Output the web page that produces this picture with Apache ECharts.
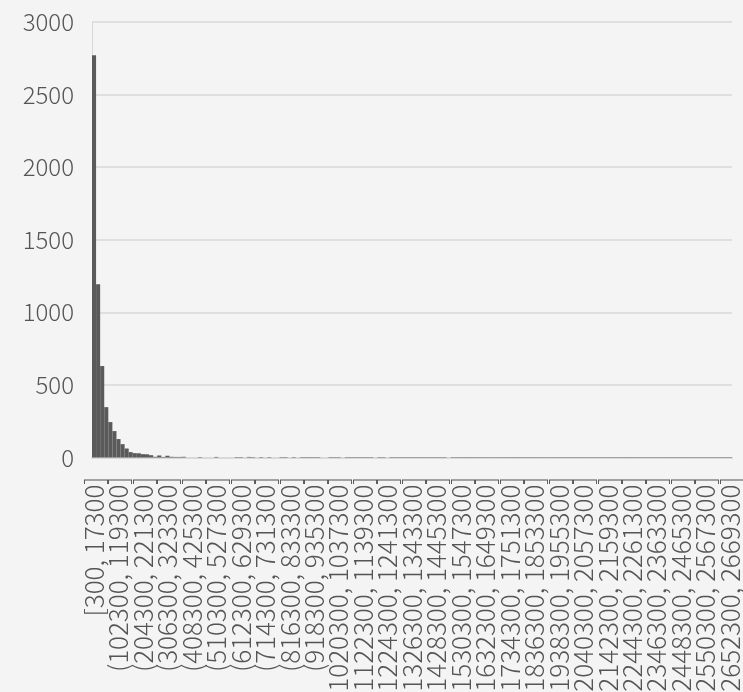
<!DOCTYPE html>
<html>
<head>
<meta charset="utf-8">
<script src="https://cdn.jsdelivr.net/npm/echarts@6/dist/echarts.min.js"></script>
<style>
  html, body { margin: 0; padding: 0; background: #f4f4f4; }
  #chart { width: 743px; height: 692px; }
</style>
</head>
<body>
<div id="chart"></div>
<script>
// Histogram bins: first bin is closed [300, 17300], the rest are (lo, hi]
const binStart = 300;
const binWidth = 17000;
// Every sixth bin gets its range written under the axis
const labelEvery = 6;

// Count per bin, left to right
const counts = [
  2771, 1194, 630, 347, 244, 182, 127, 92, 62, 37,
  30, 29, 23, 22, 16, 5, 14, 4, 12, 5,
  4, 4, 5, 0, 0, 0, 3, 0, 0, 0,
  4, 0, 0, 0, 0, 3, 3, 0, 4, 3,
  0, 3, 0, 3, 0, 0, 3, 3, 0, 3,
  0, 3, 3, 3, 3, 3, 0, 0, 3, 3,
  3, 0, 3, 3, 3, 3, 3, 3, 3, 0,
  3, 3, 0, 3, 3, 3, 3, 3, 3, 3,
  3, 3, 3, 3, 3, 3, 3, 0, 3, 3,
  3, 3, 3, 3, 3, 3, 3, 3, 3, 3,
  3, 3, 3, 3, 3, 3, 3, 3, 3, 3,
  3, 3, 3, 3, 3, 3, 3, 3, 3, 3,
  3, 3, 3, 3, 3, 3, 3, 3, 3, 3,
  3, 3, 3, 3, 3, 3, 3, 3, 3, 3,
  3, 3, 3, 3, 3, 3, 3, 3, 3, 3,
  3, 3, 3, 3, 3, 3, 3
];

// Category labels built from the bin edges
const categories = counts.map((_, i) => {
  const lo = binStart + i * binWidth;
  const hi = lo + binWidth;
  return i === 0 ? `[${lo}, ${hi}]` : `(${lo}, ${hi}]`;
});

// Value axis ticks
const yTicks = [0, 500, 1000, 1500, 2000, 2500, 3000];

const textColor = '#555555';
const gridColor = '#d9d9d9';
const fontFamily = '"Noto Sans CJK JP", "Noto Sans", sans-serif';

const chart = echarts.init(document.getElementById('chart'), null, { renderer: 'canvas' });

chart.setOption({
  backgroundColor: '#f4f4f4',
  animation: false,
  grid: {
    left: 92, right: 11, top: 22, bottom: 234.5,
    containLabel: false,
    outerBoundsMode: 'none'
  },
  xAxis: {
    type: 'category',
    data: categories,
    boundaryGap: true,
    axisLine: { show: true, lineStyle: { color: gridColor, width: 2 } },
    axisTick: { show: false },
    axisLabel: {
      interval: 0,
      rotate: 90,
      margin: 19,
      hideOverlap: false,
      color: textColor,
      fontSize: 26,
      fontWeight: 300,
      fontFamily: fontFamily,
      formatter: (value, index) => (index % labelEvery === 0 ? value : '')
    }
  },
  yAxis: {
    type: 'value',
    min: yTicks[0],
    max: yTicks[yTicks.length - 1],
    interval: yTicks[1] - yTicks[0],
    axisLine: { show: true, lineStyle: { color: gridColor, width: 1 } },
    axisTick: { show: false },
    splitLine: { show: true, lineStyle: { color: gridColor, width: 1.5 } },
    axisLabel: {
      margin: 18,
      color: textColor,
      fontSize: 24,
      fontWeight: 300,
      fontFamily: fontFamily,
      formatter: (v) => String(v)
    }
  },
  series: [{
    type: 'bar',
    data: counts,
    barCategoryGap: '0%',
    itemStyle: { color: '#5a5a5a' }
  }]
});
</script>
</body>
</html>
